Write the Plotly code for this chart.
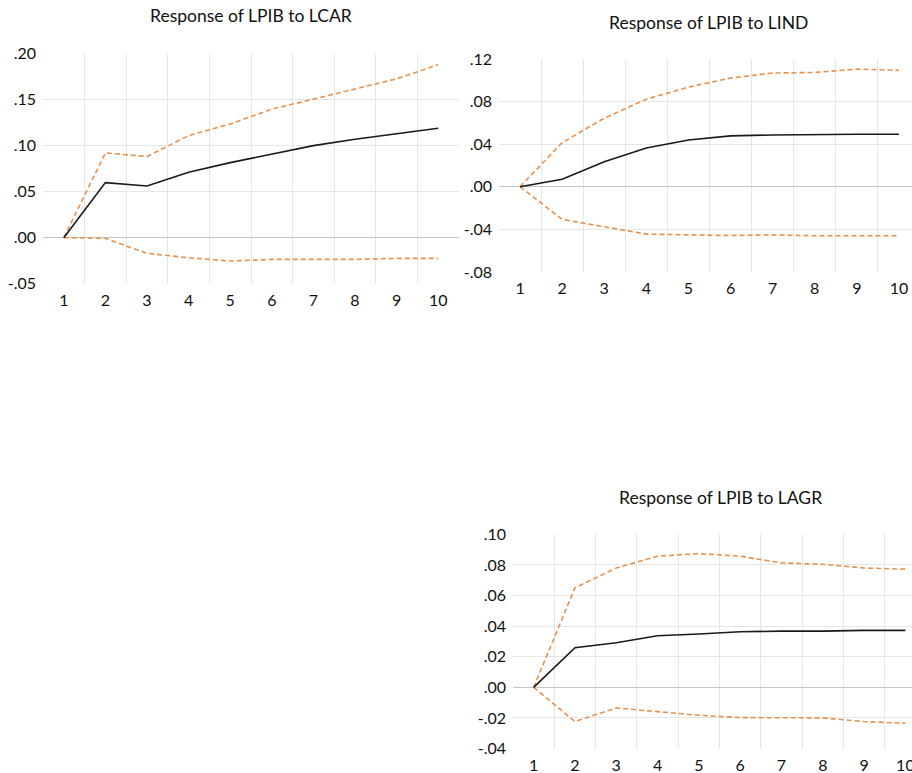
import plotly.graph_objects as go

# Impulse-response horizons
periods = [1, 2, 3, 4, 5, 6, 7, 8, 9, 10]

# Response of LPIB to LCAR
lcar_resp = [0.0, 0.0599, 0.0562, 0.0711, 0.0816, 0.0907, 0.1001, 0.1070, 0.1128, 0.1190]
lcar_upper = [0.0, 0.0922, 0.0882, 0.1110, 0.1237, 0.1397, 0.1506, 0.1615, 0.1727, 0.1880]
lcar_lower = [0.0, -0.0007, -0.0170, -0.0218, -0.0254, -0.0236, -0.0236, -0.0236, -0.0225, -0.0225]

# Response of LPIB to LIND
lind_resp = [0.0, 0.0069, 0.0235, 0.0364, 0.0439, 0.0477, 0.0486, 0.0493, 0.0493, 0.0493]
lind_upper = [0.0, 0.0414, 0.0643, 0.0822, 0.0935, 0.1020, 0.1067, 0.1073, 0.1104, 0.1092]
lind_lower = [0.0, -0.0307, -0.0376, -0.0445, -0.0452, -0.0458, -0.0452, -0.0461, -0.0461, -0.0461]

# Response of LPIB to LAGR
lagr_resp = [0.0, 0.0259, 0.0291, 0.0337, 0.0348, 0.0363, 0.0367, 0.0367, 0.0372, 0.0372]
lagr_upper = [0.0, 0.0650, 0.0780, 0.0857, 0.0874, 0.0857, 0.0813, 0.0804, 0.0780, 0.0772]
lagr_lower = [0.0, -0.0224, -0.0135, -0.0159, -0.0183, -0.0198, -0.0198, -0.0200, -0.0224, -0.0235]

# Axis tick values and their labels
lcar_ticks = [-0.05, 0.0, 0.05, 0.10, 0.15, 0.20]
lcar_labels = ["-.05", ".00", ".05", ".10", ".15", ".20"]
lind_ticks = [-0.08, -0.04, 0.0, 0.04, 0.08, 0.12]
lind_labels = ["-.08", "-.04", ".00", ".04", ".08", ".12"]
lagr_ticks = [-0.04, -0.02, 0.0, 0.02, 0.04, 0.06, 0.08, 0.10]
lagr_labels = ["-.04", "-.02", ".00", ".02", ".04", ".06", ".08", ".10"]

titles = ["Response of LPIB to LCAR", "Response of LPIB to LIND", "Response of LPIB to LAGR"]

W, H = 912, 773
FONT = "Lato"
ORANGE = "#E8914F"
GRID = "#e6e6e6"
TICKFONT = dict(family=FONT, size=16, color="#111111")

panels = [
    dict(resp=lcar_resp, up=lcar_upper, lo=lcar_lower, ticks=lcar_ticks, labels=lcar_labels,
         px=(43, 459), py=(53.7, 283.7), xr=[0.5, 10.5], title_xy=(251, 15)),
    dict(resp=lind_resp, up=lind_upper, lo=lind_lower, ticks=lind_ticks, labels=lind_labels,
         px=(499, 912), py=(58.9, 271.9), xr=[0.5, 10.31], title_xy=(708, 22)),
    dict(resp=lagr_resp, up=lagr_upper, lo=lagr_lower, ticks=lagr_ticks, labels=lagr_labels,
         px=(513, 912), py=(534.3, 748.5), xr=[0.5, 10.16], title_xy=(720, 497)),
]

fig = go.Figure()
layout = dict(
    width=W, height=H, margin=dict(l=0, r=0, t=0, b=0, pad=0), autosize=False,
    paper_bgcolor="white", plot_bgcolor="white", showlegend=False,
    font=dict(family=FONT, size=16, color="#111111"),
    annotations=[],
)

for i, p in enumerate(panels):
    n = "" if i == 0 else str(i + 1)
    xa, ya = "x" + n, "y" + n
    for vals, color, dash, width in [(p["up"], ORANGE, "5px,3px", 1.6),
                                     (p["lo"], ORANGE, "5px,3px", 1.6),
                                     (p["resp"], "#1a1a1a", "solid", 1.6)]:
        fig.add_trace(go.Scatter(x=periods, y=vals, mode="lines", xaxis=xa, yaxis=ya,
                                 line=dict(color=color, width=width, dash=dash),
                                 hoverinfo="skip"))
    ticks = p["ticks"]
    inner = [t for t in ticks if t != 0 and t != ticks[0] and t != ticks[-1]]
    layout["xaxis" + n] = dict(
        domain=[p["px"][0] / W, p["px"][1] / W], range=p["xr"], anchor=ya,
        tickvals=periods, ticktext=[str(v) for v in periods],
        showgrid=False, zeroline=False, showline=False, ticks="",
        automargin=False, ticklabeloverflow="allow",
        ticklabelstandoff=5, tickfont=TICKFONT,
        minor=dict(tickvals=[v + 0.5 for v in periods[:-1]], showgrid=True,
                   gridcolor=GRID, gridwidth=1, ticks=""),
    )
    layout["yaxis" + n] = dict(
        domain=[1 - p["py"][1] / H, 1 - p["py"][0] / H], range=[ticks[0], ticks[-1]],
        anchor=xa, tickvals=ticks, ticktext=p["labels"],
        showgrid=False, zeroline=True, zerolinecolor="#c4c4c4", zerolinewidth=1,
        showline=False, ticks="", ticklabelstandoff=6,
        automargin=False, ticklabeloverflow="allow",
        tickfont=TICKFONT,
        minor=dict(tickvals=inner, showgrid=True, gridcolor=GRID, gridwidth=1, ticks=""),
    )
    layout["annotations"].append(dict(
        text=titles[i], x=p["title_xy"][0] / W, y=1 - p["title_xy"][1] / H,
        xref="paper", yref="paper", showarrow=False, xanchor="center", yanchor="middle",
        font=dict(family=FONT, size=17.5, color="#111111"),
    ))

fig.update_layout(**layout)
fig.write_html("out.html")
